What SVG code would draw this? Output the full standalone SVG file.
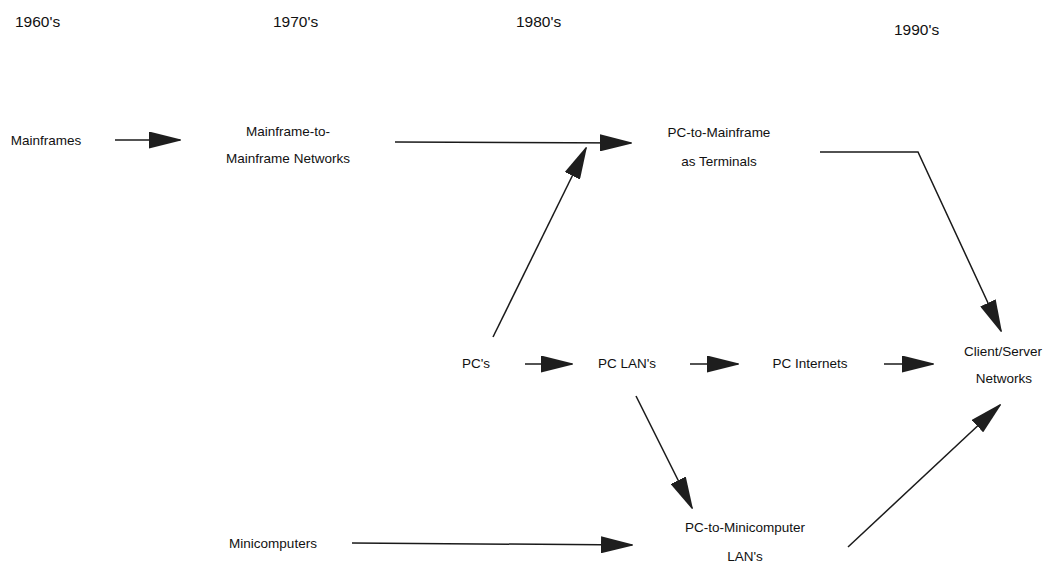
<svg xmlns="http://www.w3.org/2000/svg" width="1048" height="565" viewBox="0 0 1048 565">
  <style>
    .era { font-family: "Liberation Sans", Arial, sans-serif; font-size: 15.5px; fill: #111; }
    .lbl { font-family: "Liberation Sans", Arial, sans-serif; font-size: 13.5px; fill: #111; text-anchor: middle; }
    .conn { fill: none; stroke: #1a1a1a; stroke-width: 1.5; marker-end: url(#head); }
  </style>
  <defs>
    <marker id="head" viewBox="0 0 32 17" refX="31" refY="8.5" markerWidth="32" markerHeight="17" markerUnits="userSpaceOnUse" orient="auto">
      <path d="M0,0 L32,8 L32,9 L0,17 Z" fill="#1e1e1e"/>
    </marker>
  </defs>
  <rect width="1048" height="565" fill="#fff"/>

  <!-- decade headings -->
  <g id="eras">
    <text class="era" x="15" y="27">1960's</text>
    <text class="era" x="273" y="27">1970's</text>
    <text class="era" x="516" y="27">1980's</text>
    <text class="era" x="894" y="35">1990's</text>
  </g>

  <!-- connectors -->
  <g id="connectors">
    <line class="conn" x1="115" y1="140" x2="180" y2="140"/>
    <line class="conn" x1="395" y1="142" x2="631" y2="143"/>
    <line class="conn" x1="493" y1="337" x2="586" y2="148"/>
    <polyline class="conn" points="820,152 918,152 1001,331"/>
    <line class="conn" x1="525" y1="364" x2="572" y2="364"/>
    <line class="conn" x1="690" y1="364" x2="738" y2="364"/>
    <line class="conn" x1="884" y1="364" x2="933" y2="364"/>
    <line class="conn" x1="636" y1="396" x2="692" y2="508"/>
    <line class="conn" x1="352" y1="543" x2="632" y2="545"/>
    <line class="conn" x1="848" y1="547" x2="1000" y2="405"/>
  </g>

  <!-- nodes -->
  <g id="mainframes"><text class="lbl" x="46" y="145">Mainframes</text></g>
  <g id="mf-networks">
    <text class="lbl" x="288" y="136">Mainframe-to-</text>
    <text class="lbl" x="288" y="163">Mainframe Networks</text>
  </g>
  <g id="pc-mainframe">
    <text class="lbl" x="719" y="137">PC-to-Mainframe</text>
    <text class="lbl" x="719" y="166">as Terminals</text>
  </g>
  <g id="pcs"><text class="lbl" x="476" y="368">PC's</text></g>
  <g id="pc-lans"><text class="lbl" x="627" y="368">PC LAN's</text></g>
  <g id="pc-internets"><text class="lbl" x="810" y="368">PC Internets</text></g>
  <g id="client-server">
    <text class="lbl" x="1003" y="356">Client/Server</text>
    <text class="lbl" x="1004" y="383">Networks</text>
  </g>
  <g id="minicomputers"><text class="lbl" x="273" y="548">Minicomputers</text></g>
  <g id="pc-mini">
    <text class="lbl" x="745" y="532">PC-to-Minicomputer</text>
    <text class="lbl" x="745" y="561">LAN's</text>
  </g>
</svg>
